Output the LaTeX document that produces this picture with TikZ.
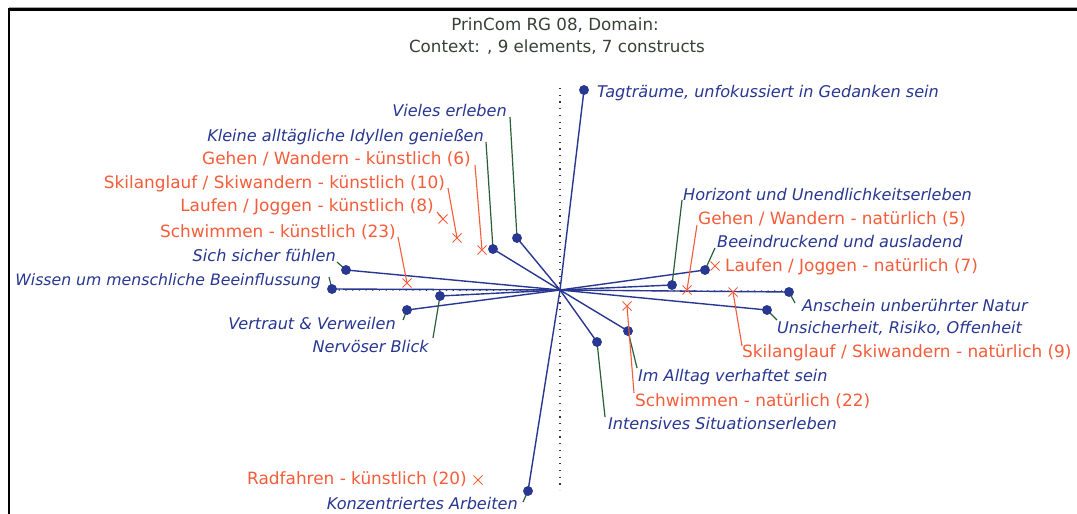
\documentclass[tikz,border=0pt]{standalone}
\usepackage{fontspec}
\setmainfont{DejaVu Sans}
\usetikzlibrary{shapes.misc}
\definecolor{cblue}{RGB}{40,55,145}
\definecolor{cred}{RGB}{245,92,58}
\definecolor{cgreen}{RGB}{40,95,55}
\definecolor{ctitle}{RGB}{55,65,55}
\begin{document}
\begin{tikzpicture}[x=1pt,y=-1pt,
  lab/.style={font=\fontsize{16.1}{18}\selectfont\itshape, text=cblue, inner sep=0pt},
  ele/.style={font=\fontsize{16.9}{19}\selectfont, text=cred, inner sep=0pt},
  ttl/.style={font=\fontsize{16.7}{19}\selectfont, text=ctitle, inner sep=0pt},
  pole/.style={circle, fill=cblue, inner sep=0pt, minimum size=9.5pt},
  elem/.style={cross out, draw=cred, line width=1pt, inner sep=0pt, minimum size=8pt},
  cline/.style={draw=cblue, line width=1.4pt},
  lead/.style={draw=cgreen, line width=1.2pt},
  rlead/.style={draw=cred, line width=1.1pt},
  axis/.style={draw=black!80, line width=1.1pt, dash pattern=on 1.2pt off 5.5pt},
]
\useasboundingbox (0,0) rectangle (1077,514);
\fill[white] (0,0) rectangle (1077,514);

% frame
\draw[black!35, line width=1pt] (9,7.5) -- (1077,7.5);
\draw[black, line width=2.2pt] (1077,9.5) -- (9,9.5) -- (9,514);

% title
\node[ttl] (t1) at (555,25) {PrinCom RG 08, Domain:};
\node[ttl] (t2) at (557,47) {Context: , 9 elements, 7 constructs};

% origin and axes
\coordinate (o) at (560,290);
\coordinate (axT) at (560,88);
\coordinate (axB) at (560,490);
\coordinate (axL) at (332,290);
\coordinate (axR) at (790,291);
\draw[axis] (axT) -- (axB);
\draw[axis] (axL) -- (axR);

% construct poles
\node[pole] (p1) at (584,90) {};
\node[pole] (p2) at (528,491) {};
\node[pole] (p3) at (517,238) {};
\node[pole] (p4) at (493,249) {};
\node[pole] (p5) at (346,270) {};
\node[pole] (p6) at (332,289) {};
\node[pole] (p7) at (407,310) {};
\node[pole] (p8) at (440,296) {};
\node[pole] (p9) at (672,285) {};
\node[pole] (p10) at (705,270) {};
\node[pole] (p11) at (789,292) {};
\node[pole] (p12) at (767,310) {};
\node[pole] (p13) at (628,331) {};
\node[pole] (p14) at (597,342) {};

% construct vectors from the origin
\foreach \p in {p1,p2,p3,p4,p5,p6,p7,p8,p9,p10,p11,p12,p13,p14}
  \draw[cline] (o) -- (\p.center);

% construct labels
\node[lab, anchor=mid west] (l1) at (597,94.5) {Tagträume, unfokussiert in Gedanken sein};
\node[lab, anchor=mid east] (l2) at (518,506.5) {Konzentriertes Arbeiten};
\node[lab, anchor=mid east] (l3) at (507,113.5) {Vieles erleben};
\node[lab, anchor=mid east] (l4) at (484,138.5) {Kleine alltägliche Idyllen genießen};
\node[lab, anchor=mid east] (l5) at (336,258.5) {Sich sicher fühlen};
\node[lab, anchor=mid east, font=\fontsize{15.7}{18}\selectfont\itshape] (l6) at (321,282.5) {Wissen um menschliche Beeinflussung};
\node[lab, anchor=mid east] (l7) at (396,326.5) {Vertraut \& Verweilen};
\node[lab, anchor=mid east] (l8) at (429,349.5) {Nervöser Blick};
\node[lab, anchor=mid west] (l9) at (683,197.5) {Horizont und Unendlichkeitserleben};
\node[lab, anchor=mid west] (l10) at (717,244.5) {Beeindruckend und ausladend};
\node[lab, anchor=mid west] (l11) at (802,308.5) {Anschein unberührter Natur};
\node[lab, anchor=mid west] (l12) at (777,330.5) {Unsicherheit, Risiko, Offenheit};
\node[lab, anchor=mid west] (l13) at (638,378.5) {Im Alltag verhaftet sein};
\node[lab, anchor=mid west] (l14) at (608,426.5) {Intensives Situationserleben};

% leader ends next to the construct labels
\coordinate (g2) at (523,502);
\coordinate (g3) at (510,117);
\coordinate (g4) at (486,142);
\coordinate (g5) at (337,262);
\coordinate (g6) at (329,277);
\coordinate (g7) at (403,320);
\coordinate (g8) at (433,338);
\coordinate (g9) at (682,200);
\coordinate (g10) at (715,248);
\coordinate (g11) at (795,303);
\coordinate (g12) at (777,320);
\coordinate (g13) at (637,368);
\coordinate (g14) at (605,417);
\foreach \i in {2,...,14}
  \draw[lead] (g\i) -- (p\i.center);
\foreach \p in {p1,p2,p3,p4,p5,p6,p7,p8,p9,p10,p11,p12,p13,p14}
  \fill[cblue] (\p) circle (4.8pt);

% elements
\node[elem] (e1) at (482,250) {};
\node[elem] (e2) at (457,238) {};
\node[elem] (e3) at (443,219) {};
\node[elem] (e4) at (407,283) {};
\node[elem] (e5) at (687,290) {};
\node[elem] (e6) at (715,266) {};
\node[elem] (e7) at (733,292) {};
\node[elem] (e8) at (627,306) {};
\node[elem] (e9) at (478,480) {};

\node[ele, anchor=mid east] (k1) at (471,161.5) {Gehen / Wandern - künstlich (6)};
\node[ele, anchor=mid east] (k2) at (445,185.5) {Skilanglauf / Skiwandern - künstlich (10)};
\node[ele, anchor=mid east] (k3) at (434,208.5) {Laufen / Joggen - künstlich (8)};
\node[ele, anchor=mid east] (k4) at (396,234.5) {Schwimmen - künstlich (23)};
\node[ele, anchor=mid west] (k5) at (698,221.5) {Gehen / Wandern - natürlich (5)};
\node[ele, anchor=mid west] (k6) at (725,268.5) {Laufen / Joggen - natürlich (7)};
\node[ele, anchor=mid west] (k7) at (742,354.5) {Skilanglauf / Skiwandern - natürlich (9)};
\node[ele, anchor=mid west] (k8) at (635,403.5) {Schwimmen - natürlich (22)};
\node[ele, anchor=mid east] (k9) at (467,481.5) {Radfahren - künstlich (20)};

\coordinate (r1) at (475,165);
\coordinate (r2) at (448,188);
\coordinate (r3) at (437,212);
\coordinate (r4) at (398,237);
\coordinate (r5) at (697,225);
\coordinate (r7) at (742,346);
\coordinate (r8) at (634,393);
\foreach \i in {1,2,3,4,5,7,8}
  \draw[rlead] (r\i) -- (e\i.center);
\end{tikzpicture}
\end{document}
